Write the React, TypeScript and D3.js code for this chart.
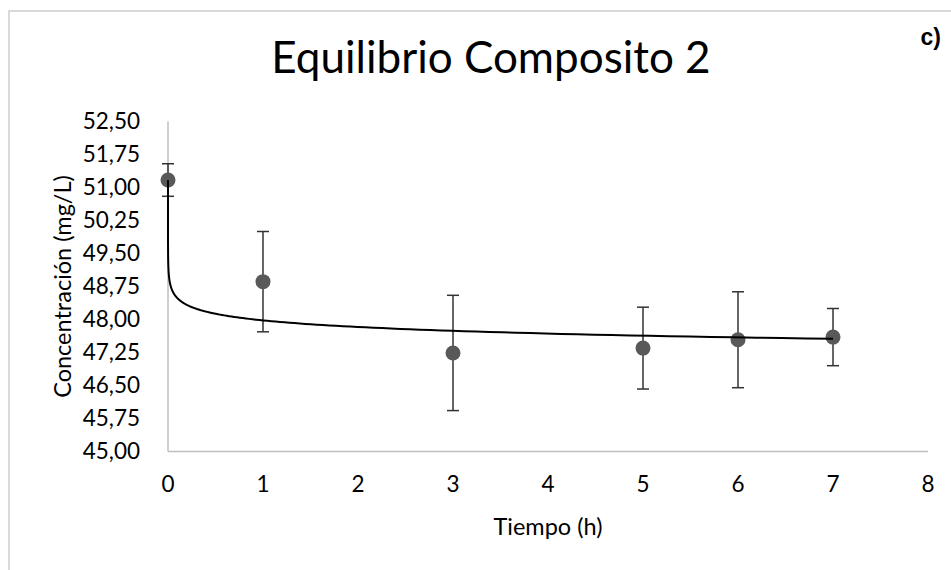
import React from "react";
import * as d3 from "d3";

// Sampling times (h) and measured concentrations (mg/L)
const tiempo = [0, 1, 3, 5, 6, 7];
const concentracion = [51.17, 48.86, 47.24, 47.35, 47.54, 47.6];
const errorConc = [0.37, 1.14, 1.31, 0.93, 1.09, 0.65];

// Power trendline y = a * x^b
const fitA = 47.98;
const fitB = -0.00452;

const yTicks = [45, 45.75, 46.5, 47.25, 48, 48.75, 49.5, 50.25, 51, 51.75, 52.5];
const xTicks = [0, 1, 2, 3, 4, 5, 6, 7, 8];

const W = 951;
const H = 570;
const FONT = "Lato, 'Open Sans', sans-serif";

const esLocale = d3.formatLocale({
  decimal: ",",
  thousands: ".",
  grouping: [3],
  currency: ["", " €"],
});
const fmtY = esLocale.format(".2f");

export default function App() {
  const x = d3.scaleLinear().domain([0, 8]).range([168, 928]);
  const y = d3.scaleLinear().domain([45, 52.5]).range([451.5, 121.5]);

  // Trendline samples: start where the fit meets the first measurement,
  // then log-spaced out to the last sampling time.
  const yStart = concentracion[0];
  const xStart = Math.pow(yStart / fitA, 1 / fitB);
  const lastX = tiempo[tiempo.length - 1];
  const n = 400;
  const fitPts: [number, number][] = [];
  const l0 = Math.log(xStart);
  const l1 = Math.log(lastX);
  for (let i = 0; i <= n; i++) {
    const xv = Math.exp(l0 + ((l1 - l0) * i) / n);
    fitPts.push([xv, fitA * Math.pow(xv, fitB)]);
  }
  const line = d3
    .line<[number, number]>()
    .x((d) => x(d[0]))
    .y((d) => y(d[1]))
    .curve(d3.curveLinear);
  const fitPath = line([[0, yStart], ...fitPts]) || "";

  const cap = 6;

  return (
    <svg
      width={W}
      height={H}
      style={{ position: "absolute", left: 0, top: 0, background: "#fff" }}
      fontFamily={FONT}
    >
      <rect x={0} y={0} width={W} height={H} fill="#fff" />
      {/* chart area frame */}
      <rect x={9} y={11} width={1200} height={1200} fill="#fff" stroke="#d9d9d9" strokeWidth={2} />

      <text x={491} y={73} textAnchor="middle" fontSize={44} fill="#000">
        Equilibrio Composito 2
      </text>

      <text x={941} y={45} textAnchor="end" fontSize={23} fontWeight="bold" fill="#000" fontFamily="'Liberation Sans', Arial, sans-serif">
        c)
      </text>

      {/* axes */}
      <line x1={x(0)} x2={x(0)} y1={y(52.5)} y2={y(45)} stroke="#bfbfbf" strokeWidth={1.5} />
      <line x1={x(0)} x2={x(8)} y1={y(45)} y2={y(45)} stroke="#bfbfbf" strokeWidth={1.5} />

      {yTicks.map((t) => (
        <text key={t} x={140} y={y(t)} dy="0.35em" textAnchor="end" fontSize={22.5} fill="#000">
          {fmtY(t)}
        </text>
      ))}
      {xTicks.map((t) => (
        <text key={t} x={x(t)} y={492} textAnchor="middle" fontSize={22.5} fill="#000">
          {t}
        </text>
      ))}

      <text
        transform={`translate(71, ${(y(52.5) + y(45)) / 2}) rotate(-90)`}
        textAnchor="middle"
        fontSize={23.5}
        fill="#000"
      >
        Concentración (mg/L)
      </text>
      <text x={x(4)} y={535} textAnchor="middle" fontSize={23.5} fill="#000">
        Tiempo (h)
      </text>

      {/* error bars */}
      <g stroke="#333" strokeWidth={1.5}>
        {tiempo.map((t, i) => {
          const cx = x(t);
          const top = y(concentracion[i] + errorConc[i]);
          const bot = y(concentracion[i] - errorConc[i]);
          return (
            <g key={t}>
              <line x1={cx} x2={cx} y1={top} y2={bot} />
              <line x1={cx - cap} x2={cx + cap} y1={top} y2={top} />
              <line x1={cx - cap} x2={cx + cap} y1={bot} y2={bot} />
            </g>
          );
        })}
      </g>

      {/* measurements */}
      {tiempo.map((t, i) => (
        <circle key={t} cx={x(t)} cy={y(concentracion[i])} r={7.5} fill="#595959" />
      ))}

      {/* trendline */}
      <path d={fitPath} fill="none" stroke="#000" strokeWidth={2} />
    </svg>
  );
}
